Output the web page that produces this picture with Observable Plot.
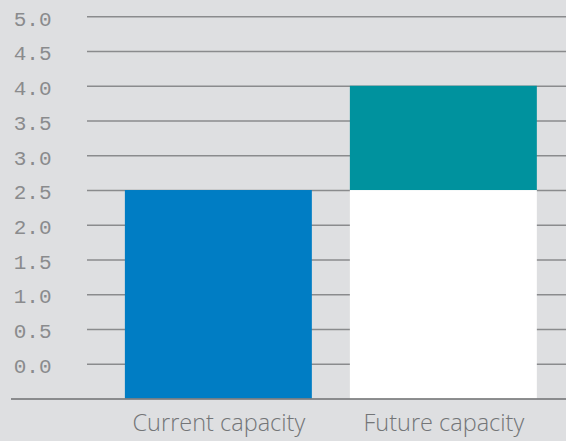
<!DOCTYPE html>
<html>
<head>
<meta charset="utf-8">
<script src="https://cdn.jsdelivr.net/npm/d3@7"></script>
<script src="https://cdn.jsdelivr.net/npm/@observablehq/plot@0.6"></script>
<style>
  html, body { margin: 0; padding: 0; background: #dedfe1; }
  #chart svg { display: block; }
</style>
</head>
<body>
<div id="chart"></div>
<script>
const categories = ["Current capacity", "Future capacity"];
const baseValues = [2.5, 2.5];
const addedValues = [0, 1.5];
const yTicks = [0, 0.5, 1, 1.5, 2, 2.5, 3, 3.5, 4, 4.5, 5];
const floor = -0.5;

const rows = [];
categories.forEach((c, i) => {
  rows.push({category: c, seg: i === 0 ? "current" : "base", y1: floor, y2: baseValues[i]});
  if (addedValues[i] > 0) rows.push({category: c, seg: "added", y1: baseValues[i], y2: baseValues[i] + addedValues[i]});
});

const chart = Plot.plot({
  width: 566,
  height: 441,
  marginLeft: 87,
  marginRight: 0,
  marginTop: 16.3,
  marginBottom: 42.5,
  style: {background: "#dedfe1", overflow: "visible"},
  x: {domain: categories, paddingInner: 0.169, paddingOuter: 0.149, align: 0.565, round: false, label: null},
  y: {domain: [floor, 5], label: null},
  color: {domain: ["current", "base", "added"], range: ["#007dc4", "#ffffff", "#00929e"]},
  marks: [
    Plot.ruleY(yTicks, {stroke: "#8a8b8d", strokeWidth: 1.4, strokeOpacity: 1}),
    Plot.barY(rows, {x: "category", y1: "y1", y2: "y2", fill: "seg"}),
    Plot.ruleY([floor], {stroke: "#6e6f71", strokeWidth: 1.6, insetLeft: -76}),
    Plot.axisY(yTicks, {tickSize: 0, tickPadding: 36, fontSize: 21, fontFamily: "Liberation Mono", fill: "#8a8b8d", tickFormat: d => d.toFixed(1), dy: 2, label: null}),
    Plot.axisX({tickSize: 0, tickPadding: 15, fontSize: 23.5, fontFamily: "Open Sans", fontWeight: 300, fill: "#737577", label: null})
  ]
});
document.getElementById("chart").append(chart);
</script>
</body>
</html>
